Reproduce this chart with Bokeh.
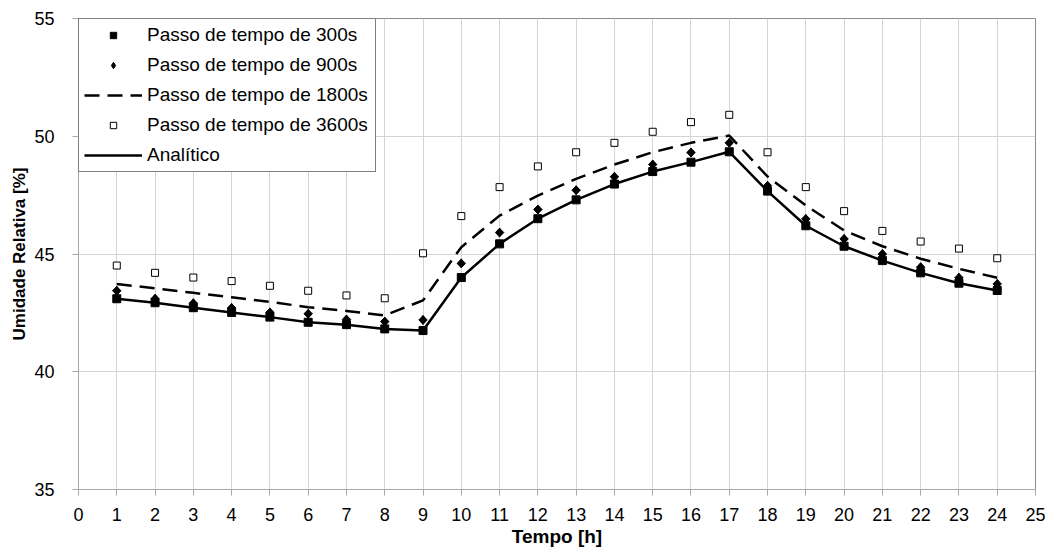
import math
from bokeh.plotting import figure
from bokeh.models import Legend, LegendItem, FixedTicker, Range1d
from bokeh.embed import file_html
from bokeh.resources import INLINE

hours = list(range(1, 25))
passo_300 = [43.10, 42.93, 42.72, 42.52, 42.32, 42.10, 42.00, 41.82, 41.75, 44.00, 45.43, 46.50,
             47.30, 47.97, 48.50, 48.90, 49.34, 47.67, 46.20, 45.33, 44.72, 44.20, 43.76, 43.45]
passo_900 = [43.44, 43.10, 42.91, 42.71, 42.52, 42.46, 42.22, 42.13, 42.20, 44.60, 45.91, 46.89,
             47.71, 48.28, 48.80, 49.31, 49.72, 47.90, 46.49, 45.64, 45.00, 44.44, 43.99, 43.73]
passo_1800 = [43.73, 43.54, 43.35, 43.16, 42.97, 42.74, 42.58, 42.39, 43.03, 45.29, 46.63, 47.48,
              48.19, 48.80, 49.32, 49.72, 50.03, 48.29, 47.06, 46.00, 45.33, 44.80, 44.37, 43.99]
passo_3600 = [44.51, 44.20, 44.00, 43.85, 43.65, 43.44, 43.24, 43.12, 45.03, 46.61, 47.84, 48.72,
              49.32, 49.72, 50.19, 50.60, 50.91, 49.32, 47.84, 46.82, 45.98, 45.53, 45.23, 44.82]
analitico = [43.10, 42.93, 42.72, 42.52, 42.32, 42.10, 42.00, 41.82, 41.75, 44.00, 45.43, 46.50,
             47.30, 47.97, 48.50, 48.90, 49.34, 47.67, 46.20, 45.33, 44.72, 44.20, 43.76, 43.45]

labels = ["Passo de tempo de 300s", "Passo de tempo de 900s", "Passo de tempo de 1800s",
          "Passo de tempo de 3600s", "Analítico"]
x_ticks = list(range(0, 26))
y_ticks = [35, 40, 45, 50, 55]

FONT = "Liberation Sans"

p = figure(width=1045, height=559, output_backend="svg", toolbar_location=None,
           x_range=Range1d(0, 25), y_range=Range1d(35, 55),
           min_border_left=78, min_border_right=10, min_border_top=18, min_border_bottom=70)
p.background_fill_color = "white"
p.border_fill_color = "white"
p.outline_line_color = "#8a8a8a"
p.outline_line_width = 1

# grid
p.xgrid.ticker = FixedTicker(ticks=x_ticks)
p.ygrid.ticker = FixedTicker(ticks=y_ticks)
p.xgrid.grid_line_color = "#d4d4d4"
p.ygrid.grid_line_color = "#d4d4d4"
p.xgrid.grid_line_width = 1
p.ygrid.grid_line_width = 1

# axes
for ax in (p.xaxis[0], p.yaxis[0]):
    ax.axis_line_color = "#a8a8a8"
    ax.major_tick_line_color = "#a8a8a8"
    ax.minor_tick_line_color = None
    ax.major_tick_in = 0
    ax.major_tick_out = 6
    ax.major_label_text_font = FONT
    ax.major_label_text_font_size = "18px"
    ax.major_label_text_color = "black"
    ax.axis_label_text_font = FONT
    ax.axis_label_text_font_style = "bold"
    ax.axis_label_text_color = "black"

p.xaxis.ticker = FixedTicker(ticks=x_ticks)
p.yaxis.ticker = FixedTicker(ticks=y_ticks)
p.xaxis.axis_label = "Tempo [h]"
p.yaxis.axis_label = "Umidade Relativa [%]"
p.xaxis.axis_label_text_font_size = "19px"
p.yaxis.axis_label_text_font_size = "17px"
p.xaxis.major_label_standoff = 12
p.yaxis.major_label_standoff = 18
p.xaxis.axis_label_standoff = 2
p.yaxis.axis_label_standoff = 2

# series
r_an = p.line(hours, analitico, line_color="black", line_width=2.5)
r_1800 = p.line(hours, passo_1800, line_color="black", line_width=2.5, line_dash="15 8")
r_3600 = p.scatter(hours, passo_3600, marker="square", size=7, fill_color="white",
                   line_color="black", line_width=1)
# 900s: a diamond widened by a rotated square of the same points
r_900 = p.scatter(hours, passo_900, marker="diamond", size=9,
                  fill_color="black", line_color="black")
p.scatter(hours, passo_900, marker="square", size=6, angle=math.pi / 4,
          fill_color="black", line_color="black")
r_300 = p.scatter(hours, passo_300, marker="square", size=8, fill_color="black",
                  line_color="black")

legend = Legend(items=[
    LegendItem(label=labels[0], renderers=[r_300]),
    LegendItem(label=labels[1], renderers=[r_900]),
    LegendItem(label=labels[2], renderers=[r_1800]),
    LegendItem(label=labels[3], renderers=[r_3600]),
    LegendItem(label=labels[4], renderers=[r_an]),
], location="top_left")
legend.margin = 0
legend.padding = 5
legend.spacing = 8
legend.glyph_width = 58
legend.glyph_height = 16
legend.label_height = 22
legend.label_standoff = 5
legend.label_width = 223
legend.label_text_font = FONT
legend.label_text_font_size = "19px"
legend.label_text_color = "black"
legend.border_line_color = "black"
legend.border_line_width = 1
legend.background_fill_color = "white"
legend.background_fill_alpha = 1.0
p.add_layout(legend, "center")

open("out.html", "w").write(file_html(p, INLINE))
